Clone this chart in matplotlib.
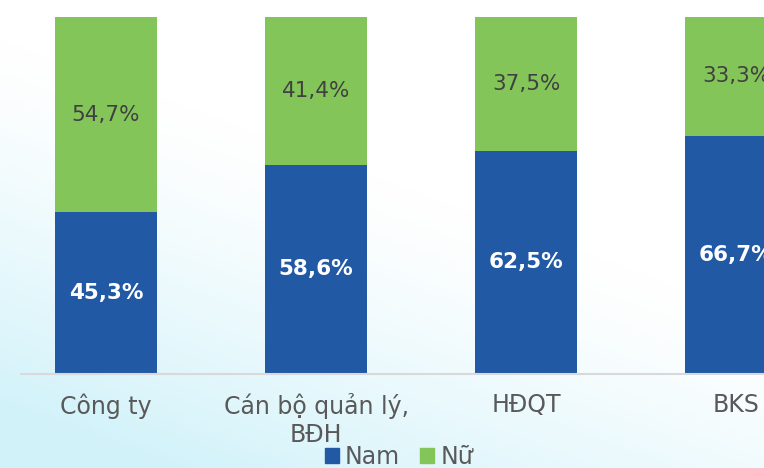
import numpy as np
import matplotlib
matplotlib.use("Agg")
import matplotlib.pyplot as plt
from matplotlib.patches import Patch

categories = ["Công ty", "Cán bộ quản lý,\nBĐH", "HĐQT", "BKS"]
nam = [45.3, 58.6, 62.5, 66.7]
nu = [54.7, 41.4, 37.5, 33.3]
series_names = ["Nam", "Nữ"]

blue = "#2159a5"
green = "#84c55a"

plt.rcParams["font.family"] = ["DejaVu Sans"]

fig = plt.figure(figsize=(7.64, 4.68), dpi=100)

# soft cyan background wash, stronger toward the bottom-left
bg = fig.add_axes([0, 0, 1, 1], zorder=-10)
gx, gy = np.meshgrid(np.linspace(0, 1, 200), np.linspace(0, 1, 120))
w = np.clip(1.15 - 0.75 * gx - 1.25 * gy, 0, 1) ** 1.3
c_white = np.array([1.0, 1.0, 1.0])
c_cyan = np.array([0.82, 0.95, 0.98])
img = c_white[None, None, :] * (1 - w[..., None]) + c_cyan[None, None, :] * w[..., None]
bg.imshow(img, origin="lower", extent=[0, 1, 0, 1], aspect="auto")
bg.axis("off")

ax = fig.add_axes([21 / 764, 94 / 468, 1 - 21 / 764, 357 / 468])
ax.patch.set_alpha(0)

x = np.arange(len(categories))
width = 0.486
b1 = ax.bar(x, nam, width, color=blue, label=series_names[0])
b2 = ax.bar(x, nu, width, bottom=nam, color=green, label=series_names[1])

for i in range(len(categories)):
    ax.text(x[i], nam[i] / 2, f"{nam[i]:.1f}%".replace(".", ","),
            ha="center", va="center", color="white", fontsize=15.5,
            fontweight="bold")
    ax.text(x[i], nam[i] + nu[i] / 2, f"{nu[i]:.1f}%".replace(".", ","),
            ha="center", va="center", color="#404040", fontsize=15.5)

ax.set_xlim(-0.405, 3.133)
ax.set_ylim(0, 100)
ax.set_yticks([])
ax.set_xticks(x)
ax.set_xticklabels(categories, fontsize=17, color="#595959")
ax.tick_params(axis="x", length=0, pad=14)
for s in ["top", "right", "left"]:
    ax.spines[s].set_visible(False)
ax.spines["bottom"].set_color("#d9d9d9")
ax.spines["bottom"].set_linewidth(1.5)

handles = [Patch(color=blue), Patch(color=green)]
fig.legend(handles, series_names, loc="center",
           bbox_to_anchor=(399 / 764, 1 - 457 / 468), ncol=2, frameon=False,
           fontsize=17, handlelength=0.6, handleheight=0.6,
           handletextpad=0.25, columnspacing=0.85, labelcolor="#595959",
           borderpad=0, borderaxespad=0)

fig.savefig("out.png", dpi=100)
